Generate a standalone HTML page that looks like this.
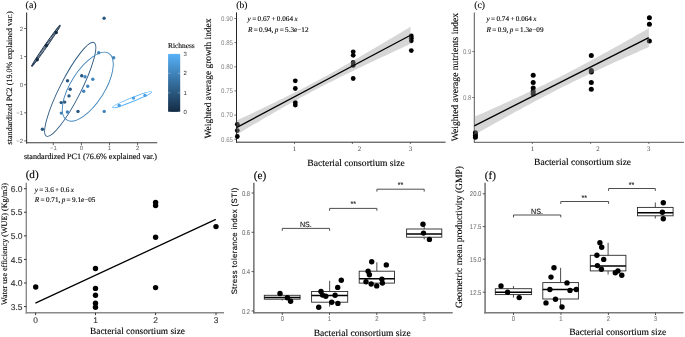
<!DOCTYPE html>
<html><head><meta charset="utf-8"><style>
html,body{margin:0;padding:0;background:#fff;}
svg{display:block;}
</style></head><body>
<svg width="685" height="337" viewBox="0 0 685 337" style="will-change:transform;text-rendering:geometricPrecision">
<rect width="685" height="337" fill="#fff"/>
<text x="25.60" y="7.50" font-family="'Liberation Serif', serif" font-size="9.9" fill="#000" text-anchor="start" stroke="#000" stroke-width="0.12">(a)</text>
<line x1="26.60" y1="12.40" x2="26.60" y2="143.40" stroke="#3a3a3a" stroke-width="1.1"/>
<line x1="26.00" y1="142.80" x2="157.20" y2="142.80" stroke="#3a3a3a" stroke-width="1.1"/>
<line x1="24.20" y1="28.50" x2="26.60" y2="28.50" stroke="#3a3a3a" stroke-width="0.8"/>
<text x="23.00" y="30.60" font-family="'Liberation Sans', sans-serif" font-size="6" fill="#666" text-anchor="end">2</text>
<line x1="24.20" y1="56.60" x2="26.60" y2="56.60" stroke="#3a3a3a" stroke-width="0.8"/>
<text x="23.00" y="58.70" font-family="'Liberation Sans', sans-serif" font-size="6" fill="#666" text-anchor="end">1</text>
<line x1="24.20" y1="84.70" x2="26.60" y2="84.70" stroke="#3a3a3a" stroke-width="0.8"/>
<text x="23.00" y="86.80" font-family="'Liberation Sans', sans-serif" font-size="6" fill="#666" text-anchor="end">0</text>
<line x1="24.20" y1="112.80" x2="26.60" y2="112.80" stroke="#3a3a3a" stroke-width="0.8"/>
<text x="23.00" y="114.90" font-family="'Liberation Sans', sans-serif" font-size="6" fill="#666" text-anchor="end">−1</text>
<line x1="24.20" y1="140.90" x2="26.60" y2="140.90" stroke="#3a3a3a" stroke-width="0.8"/>
<text x="23.00" y="143.00" font-family="'Liberation Sans', sans-serif" font-size="6" fill="#666" text-anchor="end">−2</text>
<line x1="53.30" y1="142.80" x2="53.30" y2="145.20" stroke="#3a3a3a" stroke-width="0.8"/>
<text x="53.30" y="150.30" font-family="'Liberation Sans', sans-serif" font-size="6" fill="#666" text-anchor="middle">−1</text>
<line x1="81.40" y1="142.80" x2="81.40" y2="145.20" stroke="#3a3a3a" stroke-width="0.8"/>
<text x="81.40" y="150.30" font-family="'Liberation Sans', sans-serif" font-size="6" fill="#666" text-anchor="middle">0</text>
<line x1="109.50" y1="142.80" x2="109.50" y2="145.20" stroke="#3a3a3a" stroke-width="0.8"/>
<text x="109.50" y="150.30" font-family="'Liberation Sans', sans-serif" font-size="6" fill="#666" text-anchor="middle">1</text>
<line x1="137.60" y1="142.80" x2="137.60" y2="145.20" stroke="#3a3a3a" stroke-width="0.8"/>
<text x="137.60" y="150.30" font-family="'Liberation Sans', sans-serif" font-size="6" fill="#666" text-anchor="middle">2</text>
<text x="90.50" y="158.60" font-family="'Liberation Serif', serif" font-size="8.13" fill="#000" text-anchor="middle" stroke="#000" stroke-width="0.12">standardized PC1 (76.6% explained var.)</text>
<text x="12.30" y="77.90" font-family="'Liberation Serif', serif" font-size="8.13" fill="#000" text-anchor="middle" transform="rotate(-90 12.3 77.9)" stroke="#000" stroke-width="0.12">standardized PC2 (19.0% explained var.)</text>
<ellipse cx="70.25" cy="89.35" rx="52.5" ry="10.5" transform="rotate(-63.07 70.25 89.35)" fill="none" stroke="#2a5880" stroke-width="0.9"/>
<ellipse cx="87.8" cy="86.7" rx="39.4" ry="16.9" transform="rotate(-57.6 87.8 86.7)" fill="none" stroke="#4084bb" stroke-width="0.9"/>
<ellipse cx="45.95" cy="45.8" rx="25.0" ry="1.3" transform="rotate(-55.3 45.95 45.8)" fill="#c8d0da" stroke="#132B43" stroke-width="0.8"/>
<line x1="31.9" y1="66.1" x2="60.0" y2="25.5" stroke="#132B43" stroke-width="2.2" stroke-dasharray="0.7 0.7"/>
<ellipse cx="132.1" cy="99.7" rx="21.0" ry="1.9" transform="rotate(-21.9 132.1 99.7)" fill="none" stroke="#56B1F7" stroke-width="0.9"/>
<circle cx="37.20" cy="59.70" r="1.7" fill="#132B43"/>
<circle cx="46.40" cy="45.40" r="1.7" fill="#132B43"/>
<circle cx="56.20" cy="32.50" r="1.7" fill="#132B43"/>
<circle cx="119.20" cy="105.50" r="1.7" fill="#4c9fe2"/>
<circle cx="133.50" cy="98.10" r="1.7" fill="#4c9fe2"/>
<circle cx="145.00" cy="95.40" r="1.7" fill="#4c9fe2"/>
<circle cx="104.10" cy="18.30" r="1.7" fill="#2a5880"/>
<circle cx="98.70" cy="52.80" r="1.7" fill="#4084bb"/>
<circle cx="113.70" cy="57.80" r="1.7" fill="#4084bb"/>
<circle cx="81.70" cy="75.80" r="1.7" fill="#2a5880"/>
<circle cx="85.00" cy="76.70" r="1.7" fill="#4084bb"/>
<circle cx="92.80" cy="79.30" r="1.7" fill="#4084bb"/>
<circle cx="67.50" cy="80.70" r="1.7" fill="#2a5880"/>
<circle cx="87.70" cy="86.20" r="1.7" fill="#4084bb"/>
<circle cx="70.20" cy="89.20" r="1.7" fill="#2a5880"/>
<circle cx="83.70" cy="91.30" r="1.7" fill="#4084bb"/>
<circle cx="69.00" cy="95.90" r="1.7" fill="#2a5880"/>
<circle cx="61.20" cy="102.60" r="1.7" fill="#2a5880"/>
<circle cx="64.70" cy="102.10" r="1.7" fill="#2a5880"/>
<circle cx="61.30" cy="113.10" r="1.7" fill="#4084bb"/>
<circle cx="67.40" cy="112.00" r="1.7" fill="#4084bb"/>
<circle cx="78.00" cy="111.40" r="1.7" fill="#2a5880"/>
<circle cx="104.20" cy="111.40" r="1.7" fill="#4084bb"/>
<circle cx="42.40" cy="129.20" r="1.7" fill="#2a5880"/>
<text x="168.00" y="48.40" font-family="'Liberation Serif', serif" font-size="7.4" fill="#000" text-anchor="start" stroke="#000" stroke-width="0.12">Richness</text>
<defs><linearGradient id="cb" x1="0" y1="0" x2="0" y2="1"><stop offset="0" stop-color="#56B1F7"/><stop offset="0.333" stop-color="#4084bb"/><stop offset="0.667" stop-color="#2a5880"/><stop offset="1" stop-color="#132B43"/></linearGradient></defs>
<rect x="168.10" y="53.90" width="12.10" height="58.00" fill="url(#cb)" stroke="none" stroke-width="0"/>
<line x1="168.10" y1="53.90" x2="170.50" y2="53.90" stroke="#fff" stroke-width="0.5" stroke-opacity="0.6"/>
<line x1="177.80" y1="53.90" x2="180.20" y2="53.90" stroke="#fff" stroke-width="0.5" stroke-opacity="0.6"/>
<text x="183.50" y="56.00" font-family="'Liberation Sans', sans-serif" font-size="6" fill="#333" text-anchor="start">3</text>
<line x1="168.10" y1="73.30" x2="170.50" y2="73.30" stroke="#fff" stroke-width="0.5" stroke-opacity="0.6"/>
<line x1="177.80" y1="73.30" x2="180.20" y2="73.30" stroke="#fff" stroke-width="0.5" stroke-opacity="0.6"/>
<text x="183.50" y="75.40" font-family="'Liberation Sans', sans-serif" font-size="6" fill="#333" text-anchor="start">2</text>
<line x1="168.10" y1="92.80" x2="170.50" y2="92.80" stroke="#fff" stroke-width="0.5" stroke-opacity="0.6"/>
<line x1="177.80" y1="92.80" x2="180.20" y2="92.80" stroke="#fff" stroke-width="0.5" stroke-opacity="0.6"/>
<text x="183.50" y="94.90" font-family="'Liberation Sans', sans-serif" font-size="6" fill="#333" text-anchor="start">1</text>
<line x1="168.10" y1="111.90" x2="170.50" y2="111.90" stroke="#fff" stroke-width="0.5" stroke-opacity="0.6"/>
<line x1="177.80" y1="111.90" x2="180.20" y2="111.90" stroke="#fff" stroke-width="0.5" stroke-opacity="0.6"/>
<text x="183.50" y="114.00" font-family="'Liberation Sans', sans-serif" font-size="6" fill="#333" text-anchor="start">0</text>
<text x="236.30" y="7.70" font-family="'Liberation Serif', serif" font-size="9.5" fill="#000" text-anchor="start" stroke="#000" stroke-width="0.12">(b)</text>
<line x1="236.50" y1="12.40" x2="236.50" y2="142.70" stroke="#262626" stroke-width="1.0"/>
<line x1="236.00" y1="142.20" x2="445.60" y2="142.20" stroke="#333" stroke-width="1.0"/>
<line x1="234.40" y1="18.50" x2="236.50" y2="18.50" stroke="#333" stroke-width="0.7"/>
<text x="0.00" y="0.00" font-family="'Liberation Sans', sans-serif" font-size="6.8" fill="#808080" text-anchor="end" transform="translate(233.00 20.80) scale(0.9 1)">0.90</text>
<line x1="234.40" y1="42.65" x2="236.50" y2="42.65" stroke="#333" stroke-width="0.7"/>
<text x="0.00" y="0.00" font-family="'Liberation Sans', sans-serif" font-size="6.8" fill="#808080" text-anchor="end" transform="translate(233.00 44.95) scale(0.9 1)">0.85</text>
<line x1="234.40" y1="66.80" x2="236.50" y2="66.80" stroke="#333" stroke-width="0.7"/>
<text x="0.00" y="0.00" font-family="'Liberation Sans', sans-serif" font-size="6.8" fill="#808080" text-anchor="end" transform="translate(233.00 69.10) scale(0.9 1)">0.80</text>
<line x1="234.40" y1="90.95" x2="236.50" y2="90.95" stroke="#333" stroke-width="0.7"/>
<text x="0.00" y="0.00" font-family="'Liberation Sans', sans-serif" font-size="6.8" fill="#808080" text-anchor="end" transform="translate(233.00 93.25) scale(0.9 1)">0.75</text>
<line x1="234.40" y1="115.10" x2="236.50" y2="115.10" stroke="#333" stroke-width="0.7"/>
<text x="0.00" y="0.00" font-family="'Liberation Sans', sans-serif" font-size="6.8" fill="#808080" text-anchor="end" transform="translate(233.00 117.40) scale(0.9 1)">0.70</text>
<line x1="234.40" y1="139.25" x2="236.50" y2="139.25" stroke="#333" stroke-width="0.7"/>
<text x="0.00" y="0.00" font-family="'Liberation Sans', sans-serif" font-size="6.8" fill="#808080" text-anchor="end" transform="translate(233.00 141.55) scale(0.9 1)">0.65</text>
<line x1="294.50" y1="142.20" x2="294.50" y2="144.00" stroke="#333" stroke-width="0.7"/>
<text x="294.50" y="150.50" font-family="'Liberation Serif', serif" font-size="6.9" fill="#444" text-anchor="middle">1</text>
<line x1="352.40" y1="142.20" x2="352.40" y2="144.00" stroke="#333" stroke-width="0.7"/>
<text x="359.60" y="150.50" font-family="'Liberation Serif', serif" font-size="6.9" fill="#444" text-anchor="middle">2</text>
<line x1="410.40" y1="142.20" x2="410.40" y2="144.00" stroke="#333" stroke-width="0.7"/>
<text x="410.40" y="150.50" font-family="'Liberation Serif', serif" font-size="6.9" fill="#444" text-anchor="middle">3</text>
<text x="356.00" y="165.80" font-family="'Liberation Serif', serif" font-size="9.58" fill="#000" text-anchor="middle" stroke="#000" stroke-width="0.12">Bacterial consortium size</text>
<text x="211.00" y="78.50" font-family="'Liberation Serif', serif" font-size="9.45" fill="#000" text-anchor="middle" transform="rotate(-90 211.0 78.5)" stroke="#000" stroke-width="0.12">Weighted average growth index</text>
<circle cx="237.30" cy="124.30" r="2.4" fill="#000"/>
<circle cx="237.30" cy="130.60" r="2.4" fill="#000"/>
<circle cx="237.30" cy="136.50" r="2.4" fill="#000"/>
<circle cx="295.30" cy="80.80" r="2.4" fill="#000"/>
<circle cx="295.30" cy="88.50" r="2.4" fill="#000"/>
<circle cx="295.30" cy="102.60" r="2.4" fill="#000"/>
<circle cx="295.30" cy="105.10" r="2.4" fill="#000"/>
<circle cx="353.20" cy="51.80" r="2.4" fill="#000"/>
<circle cx="353.20" cy="55.30" r="2.4" fill="#000"/>
<circle cx="353.20" cy="62.50" r="2.4" fill="#000"/>
<circle cx="353.20" cy="65.40" r="2.4" fill="#000"/>
<circle cx="353.20" cy="78.50" r="2.4" fill="#000"/>
<circle cx="411.30" cy="36.00" r="2.4" fill="#000"/>
<circle cx="411.30" cy="38.20" r="2.4" fill="#000"/>
<circle cx="411.30" cy="40.80" r="2.4" fill="#000"/>
<circle cx="411.30" cy="50.60" r="2.4" fill="#000"/>
<path d="M236.50,120.57 L239.40,119.21 L242.30,117.85 L245.20,116.49 L248.10,115.13 L251.00,113.76 L253.90,112.39 L256.80,111.01 L259.70,109.63 L262.60,108.25 L265.50,106.86 L268.40,105.47 L271.30,104.07 L274.20,102.67 L277.10,101.25 L280.00,99.84 L282.90,98.41 L285.80,96.98 L288.70,95.53 L291.60,94.08 L294.50,92.62 L297.40,91.14 L300.30,89.66 L303.20,88.16 L306.10,86.66 L309.00,85.14 L311.90,83.60 L314.80,82.06 L317.70,80.50 L320.60,78.93 L323.50,77.35 L326.40,75.76 L329.30,74.16 L332.20,72.54 L335.10,70.92 L338.00,69.29 L340.90,67.64 L343.80,65.99 L346.70,64.33 L349.60,62.67 L352.50,61.00 L355.40,59.32 L358.30,57.64 L361.20,55.95 L364.10,54.25 L367.00,52.56 L369.90,50.85 L372.80,49.15 L375.70,47.44 L378.60,45.73 L381.50,44.01 L384.40,42.29 L387.30,40.57 L390.20,38.85 L393.10,37.13 L396.00,35.40 L398.90,33.67 L401.80,31.94 L404.70,30.21 L407.60,28.48 L410.50,26.74 L410.50,43.86 L407.60,45.20 L404.70,46.54 L401.80,47.89 L398.90,49.23 L396.00,50.58 L393.10,51.93 L390.20,53.29 L387.30,54.64 L384.40,56.00 L381.50,57.36 L378.60,58.72 L375.70,60.08 L372.80,61.45 L369.90,62.82 L367.00,64.19 L364.10,65.57 L361.20,66.96 L358.30,68.34 L355.40,69.74 L352.50,71.14 L349.60,72.54 L346.70,73.95 L343.80,75.37 L340.90,76.80 L338.00,78.23 L335.10,79.67 L332.20,81.13 L329.30,82.59 L326.40,84.06 L323.50,85.55 L320.60,87.04 L317.70,88.55 L314.80,90.07 L311.90,91.60 L309.00,93.15 L306.10,94.70 L303.20,96.27 L300.30,97.85 L297.40,99.45 L294.50,101.05 L291.60,102.66 L288.70,104.29 L285.80,105.92 L282.90,107.56 L280.00,109.21 L277.10,110.87 L274.20,112.54 L271.30,114.21 L268.40,115.89 L265.50,117.57 L262.60,119.26 L259.70,120.95 L256.80,122.65 L253.90,124.35 L251.00,126.06 L248.10,127.77 L245.20,129.48 L242.30,131.20 L239.40,132.91 L236.50,134.63Z" fill="#999" fill-opacity="0.4"/>
<line x1="236.50" y1="127.60" x2="410.50" y2="35.30" stroke="#000" stroke-width="1.3"/>
<text x="247.60" y="20.90" font-family="'Liberation Serif', serif" font-size="7.2" fill="#000" text-anchor="start" stroke="#000" stroke-width="0.12" word-spacing="-0.45"><tspan font-style="italic">y</tspan> = 0.67 + 0.064 <tspan font-style="italic">x</tspan></text>
<text x="247.90" y="32.30" font-family="'Liberation Serif', serif" font-size="7.2" fill="#000" text-anchor="start" stroke="#000" stroke-width="0.12" word-spacing="-0.45"><tspan font-style="italic">R</tspan> = 0.94, <tspan font-style="italic">p</tspan> = 5.3e−12</text>
<text x="474.30" y="7.90" font-family="'Liberation Serif', serif" font-size="9.7" fill="#000" text-anchor="start" stroke="#000" stroke-width="0.12">(c)</text>
<line x1="474.30" y1="12.50" x2="474.30" y2="142.60" stroke="#444" stroke-width="0.9"/>
<line x1="474.00" y1="142.30" x2="684.00" y2="142.30" stroke="#444" stroke-width="0.9"/>
<line x1="472.20" y1="51.60" x2="474.30" y2="51.60" stroke="#444" stroke-width="0.7"/>
<text x="0.00" y="0.00" font-family="'Liberation Sans', sans-serif" font-size="6.8" fill="#808080" text-anchor="end" transform="translate(471.40 53.90) scale(0.9 1)">0.9</text>
<line x1="472.20" y1="97.50" x2="474.30" y2="97.50" stroke="#444" stroke-width="0.7"/>
<text x="0.00" y="0.00" font-family="'Liberation Sans', sans-serif" font-size="6.8" fill="#808080" text-anchor="end" transform="translate(471.40 99.80) scale(0.9 1)">0.8</text>
<line x1="532.40" y1="142.30" x2="532.40" y2="144.00" stroke="#444" stroke-width="0.7"/>
<text x="532.40" y="150.50" font-family="'Liberation Serif', serif" font-size="6.9" fill="#444" text-anchor="middle">1</text>
<line x1="590.60" y1="142.30" x2="590.60" y2="144.00" stroke="#444" stroke-width="0.7"/>
<text x="598.00" y="150.50" font-family="'Liberation Serif', serif" font-size="6.9" fill="#444" text-anchor="middle">2</text>
<line x1="648.80" y1="142.30" x2="648.80" y2="144.00" stroke="#444" stroke-width="0.7"/>
<text x="648.80" y="150.50" font-family="'Liberation Serif', serif" font-size="6.9" fill="#444" text-anchor="middle">3</text>
<text x="582.60" y="164.80" font-family="'Liberation Serif', serif" font-size="9.56" fill="#000" text-anchor="middle" stroke="#000" stroke-width="0.12">Bacterial consortium size</text>
<text x="457.90" y="77.10" font-family="'Liberation Serif', serif" font-size="9.58" fill="#000" text-anchor="middle" transform="rotate(-90 457.9 77.1)" stroke="#000" stroke-width="0.12">Weighted average nutrients index</text>
<circle cx="475.40" cy="132.70" r="2.5" fill="#000"/>
<circle cx="475.40" cy="135.20" r="2.5" fill="#000"/>
<circle cx="475.40" cy="137.20" r="2.5" fill="#000"/>
<circle cx="533.20" cy="75.30" r="2.5" fill="#000"/>
<circle cx="533.20" cy="82.60" r="2.5" fill="#000"/>
<circle cx="533.20" cy="88.00" r="2.5" fill="#000"/>
<circle cx="533.20" cy="91.50" r="2.5" fill="#000"/>
<circle cx="533.20" cy="94.00" r="2.5" fill="#000"/>
<circle cx="591.30" cy="55.60" r="2.5" fill="#000"/>
<circle cx="591.30" cy="70.50" r="2.5" fill="#000"/>
<circle cx="591.30" cy="72.00" r="2.5" fill="#000"/>
<circle cx="591.30" cy="82.60" r="2.5" fill="#000"/>
<circle cx="591.30" cy="89.30" r="2.5" fill="#000"/>
<circle cx="649.40" cy="17.80" r="2.5" fill="#000"/>
<circle cx="649.40" cy="24.30" r="2.5" fill="#000"/>
<circle cx="649.40" cy="40.90" r="2.5" fill="#000"/>
<path d="M474.30,116.90 L477.21,115.61 L480.12,114.32 L483.03,113.02 L485.94,111.72 L488.85,110.42 L491.76,109.11 L494.67,107.80 L497.58,106.48 L500.49,105.16 L503.40,103.84 L506.31,102.51 L509.22,101.18 L512.13,99.84 L515.04,98.49 L517.95,97.14 L520.86,95.78 L523.77,94.42 L526.68,93.05 L529.59,91.67 L532.50,90.29 L535.41,88.89 L538.32,87.49 L541.23,86.08 L544.14,84.66 L547.05,83.23 L549.96,81.79 L552.87,80.35 L555.78,78.89 L558.69,77.42 L561.60,75.95 L564.51,74.46 L567.42,72.96 L570.33,71.46 L573.24,69.94 L576.15,68.42 L579.06,66.89 L581.97,65.35 L584.88,63.80 L587.79,62.24 L590.70,60.67 L593.61,59.10 L596.52,57.52 L599.43,55.94 L602.34,54.34 L605.25,52.74 L608.16,51.14 L611.07,49.53 L613.98,47.92 L616.89,46.30 L619.80,44.67 L622.71,43.04 L625.62,41.41 L628.53,39.78 L631.44,38.14 L634.35,36.49 L637.26,34.85 L640.17,33.20 L643.08,31.55 L645.99,29.89 L648.90,28.24 L648.90,46.96 L645.99,48.25 L643.08,49.54 L640.17,50.83 L637.26,52.13 L634.35,53.42 L631.44,54.72 L628.53,56.03 L625.62,57.34 L622.71,58.65 L619.80,59.96 L616.89,61.28 L613.98,62.60 L611.07,63.93 L608.16,65.27 L605.25,66.61 L602.34,67.95 L599.43,69.30 L596.52,70.66 L593.61,72.02 L590.70,73.39 L587.79,74.77 L584.88,76.16 L581.97,77.55 L579.06,78.95 L576.15,80.36 L573.24,81.78 L570.33,83.21 L567.42,84.65 L564.51,86.10 L561.60,87.55 L558.69,89.02 L555.78,90.50 L552.87,91.98 L549.96,93.48 L547.05,94.99 L544.14,96.50 L541.23,98.02 L538.32,99.56 L535.41,101.10 L532.50,102.65 L529.59,104.20 L526.68,105.77 L523.77,107.34 L520.86,108.92 L517.95,110.51 L515.04,112.10 L512.13,113.70 L509.22,115.30 L506.31,116.91 L503.40,118.53 L500.49,120.15 L497.58,121.77 L494.67,123.40 L491.76,125.03 L488.85,126.67 L485.94,128.31 L483.03,129.95 L480.12,131.60 L477.21,133.25 L474.30,134.90Z" fill="#999" fill-opacity="0.4"/>
<line x1="474.30" y1="125.90" x2="648.80" y2="37.60" stroke="#000" stroke-width="1.3"/>
<text x="486.50" y="21.30" font-family="'Liberation Serif', serif" font-size="7.2" fill="#000" text-anchor="start" stroke="#000" stroke-width="0.12" word-spacing="-0.45"><tspan font-style="italic">y</tspan> = 0.74 + 0.064 <tspan font-style="italic">x</tspan></text>
<text x="486.50" y="31.60" font-family="'Liberation Serif', serif" font-size="7.2" fill="#000" text-anchor="start" stroke="#000" stroke-width="0.12" word-spacing="-0.45"><tspan font-style="italic">R</tspan> = 0.9, <tspan font-style="italic">p</tspan> = 1.3e−09</text>
<text x="25.65" y="177.50" font-family="'Liberation Serif', serif" font-size="11.2" fill="#000" text-anchor="start" stroke="#000" stroke-width="0.12">(d)</text>
<line x1="26.30" y1="182.80" x2="26.30" y2="313.50" stroke="#8a8a8a" stroke-width="1.4"/>
<line x1="25.60" y1="312.80" x2="224.00" y2="312.80" stroke="#8a8a8a" stroke-width="1.4"/>
<line x1="24.00" y1="188.70" x2="26.30" y2="188.70" stroke="#222" stroke-width="0.9"/>
<text x="22.50" y="191.90" font-family="'Liberation Sans', sans-serif" font-size="8.5" fill="#333" text-anchor="end" stroke="#333" stroke-width="0.12">6.0</text>
<line x1="24.00" y1="212.28" x2="26.30" y2="212.28" stroke="#222" stroke-width="0.9"/>
<text x="22.50" y="215.48" font-family="'Liberation Sans', sans-serif" font-size="8.5" fill="#333" text-anchor="end" stroke="#333" stroke-width="0.12">5.5</text>
<line x1="24.00" y1="235.86" x2="26.30" y2="235.86" stroke="#222" stroke-width="0.9"/>
<text x="22.50" y="239.06" font-family="'Liberation Sans', sans-serif" font-size="8.5" fill="#333" text-anchor="end" stroke="#333" stroke-width="0.12">5.0</text>
<line x1="24.00" y1="259.44" x2="26.30" y2="259.44" stroke="#222" stroke-width="0.9"/>
<text x="22.50" y="262.64" font-family="'Liberation Sans', sans-serif" font-size="8.5" fill="#333" text-anchor="end" stroke="#333" stroke-width="0.12">4.5</text>
<line x1="24.00" y1="283.02" x2="26.30" y2="283.02" stroke="#222" stroke-width="0.9"/>
<text x="22.50" y="286.22" font-family="'Liberation Sans', sans-serif" font-size="8.5" fill="#333" text-anchor="end" stroke="#333" stroke-width="0.12">4.0</text>
<line x1="24.00" y1="306.60" x2="26.30" y2="306.60" stroke="#222" stroke-width="0.9"/>
<text x="22.50" y="309.80" font-family="'Liberation Sans', sans-serif" font-size="8.5" fill="#333" text-anchor="end" stroke="#333" stroke-width="0.12">3.5</text>
<line x1="35.60" y1="312.80" x2="35.60" y2="315.20" stroke="#222" stroke-width="0.9"/>
<text x="35.60" y="322.90" font-family="'Liberation Sans', sans-serif" font-size="8.3" fill="#333" text-anchor="middle" stroke="#333" stroke-width="0.12">0</text>
<line x1="95.50" y1="312.80" x2="95.50" y2="315.20" stroke="#222" stroke-width="0.9"/>
<text x="95.50" y="322.90" font-family="'Liberation Sans', sans-serif" font-size="8.3" fill="#333" text-anchor="middle" stroke="#333" stroke-width="0.12">1</text>
<line x1="155.60" y1="312.80" x2="155.60" y2="315.20" stroke="#222" stroke-width="0.9"/>
<text x="155.60" y="322.90" font-family="'Liberation Sans', sans-serif" font-size="8.3" fill="#333" text-anchor="middle" stroke="#333" stroke-width="0.12">2</text>
<line x1="216.00" y1="312.80" x2="216.00" y2="315.20" stroke="#222" stroke-width="0.9"/>
<text x="216.00" y="322.90" font-family="'Liberation Sans', sans-serif" font-size="8.3" fill="#333" text-anchor="middle" stroke="#333" stroke-width="0.12">3</text>
<text x="137.50" y="334.00" font-family="'Liberation Serif', serif" font-size="9.36" fill="#000" text-anchor="middle" stroke="#000" stroke-width="0.12">Bacterial consortium size</text>
<text x="7.10" y="244.00" font-family="'Liberation Serif', serif" font-size="8.1" fill="#000" text-anchor="middle" transform="rotate(-90 7.1 244.0)" stroke="#000" stroke-width="0.12">Water use efficiency (WUE) (Kg/m3)</text>
<circle cx="35.70" cy="287.00" r="2.7" fill="#000"/>
<circle cx="95.50" cy="268.50" r="2.7" fill="#000"/>
<circle cx="95.50" cy="288.40" r="2.7" fill="#000"/>
<circle cx="95.50" cy="295.20" r="2.7" fill="#000"/>
<circle cx="95.50" cy="303.30" r="2.7" fill="#000"/>
<circle cx="95.50" cy="307.20" r="2.7" fill="#000"/>
<circle cx="155.60" cy="202.40" r="2.7" fill="#000"/>
<circle cx="155.60" cy="205.60" r="2.7" fill="#000"/>
<circle cx="155.60" cy="237.30" r="2.7" fill="#000"/>
<circle cx="155.60" cy="287.60" r="2.7" fill="#000"/>
<circle cx="216.00" cy="226.60" r="2.7" fill="#000"/>
<line x1="35.40" y1="303.10" x2="215.80" y2="219.40" stroke="#000" stroke-width="1.3"/>
<text x="34.80" y="191.70" font-family="'Liberation Serif', serif" font-size="7.2" fill="#000" text-anchor="start" stroke="#000" stroke-width="0.12" word-spacing="-0.45"><tspan font-style="italic">y</tspan> = 3.6 + 0.6 <tspan font-style="italic">x</tspan></text>
<text x="34.80" y="202.10" font-family="'Liberation Serif', serif" font-size="7.2" fill="#000" text-anchor="start" stroke="#000" stroke-width="0.12" word-spacing="-0.45"><tspan font-style="italic">R</tspan> = 0.71, <tspan font-style="italic">p</tspan> = 9.1e−05</text>
<text x="253.75" y="178.70" font-family="'Liberation Serif', serif" font-size="11.3" fill="#000" text-anchor="start" stroke="#000" stroke-width="0.12">(e)</text>
<line x1="253.85" y1="182.80" x2="253.85" y2="313.40" stroke="#7a7a7a" stroke-width="1.6"/>
<line x1="253.05" y1="312.70" x2="452.70" y2="312.70" stroke="#7a7a7a" stroke-width="1.6"/>
<line x1="251.55" y1="193.00" x2="253.85" y2="193.00" stroke="#444" stroke-width="0.9"/>
<text x="0.00" y="0.00" font-family="'Liberation Sans', sans-serif" font-size="7.0" fill="#7a7a7a" text-anchor="end" transform="translate(250.15 195.50) scale(0.85 1)" stroke="#7a7a7a" stroke-width="0.12">0.8</text>
<line x1="251.55" y1="232.30" x2="253.85" y2="232.30" stroke="#444" stroke-width="0.9"/>
<text x="0.00" y="0.00" font-family="'Liberation Sans', sans-serif" font-size="7.0" fill="#7a7a7a" text-anchor="end" transform="translate(250.15 234.80) scale(0.85 1)" stroke="#7a7a7a" stroke-width="0.12">0.6</text>
<line x1="251.55" y1="271.60" x2="253.85" y2="271.60" stroke="#444" stroke-width="0.9"/>
<text x="0.00" y="0.00" font-family="'Liberation Sans', sans-serif" font-size="7.0" fill="#7a7a7a" text-anchor="end" transform="translate(250.15 274.10) scale(0.85 1)" stroke="#7a7a7a" stroke-width="0.12">0.4</text>
<line x1="251.55" y1="311.00" x2="253.85" y2="311.00" stroke="#444" stroke-width="0.9"/>
<text x="0.00" y="0.00" font-family="'Liberation Sans', sans-serif" font-size="7.0" fill="#7a7a7a" text-anchor="end" transform="translate(250.15 313.50) scale(0.85 1)" stroke="#7a7a7a" stroke-width="0.12">0.2</text>
<line x1="282.30" y1="312.70" x2="282.30" y2="315.00" stroke="#444" stroke-width="0.9"/>
<text x="0.00" y="0.00" font-family="'Liberation Sans', sans-serif" font-size="7.0" fill="#7a7a7a" text-anchor="middle" transform="translate(282.30 320.90) scale(0.85 1)" stroke="#7a7a7a" stroke-width="0.12">0</text>
<line x1="329.50" y1="312.70" x2="329.50" y2="315.00" stroke="#444" stroke-width="0.9"/>
<text x="0.00" y="0.00" font-family="'Liberation Sans', sans-serif" font-size="7.0" fill="#7a7a7a" text-anchor="middle" transform="translate(329.50 320.90) scale(0.85 1)" stroke="#7a7a7a" stroke-width="0.12">1</text>
<line x1="376.80" y1="312.70" x2="376.80" y2="315.00" stroke="#444" stroke-width="0.9"/>
<text x="0.00" y="0.00" font-family="'Liberation Sans', sans-serif" font-size="7.0" fill="#7a7a7a" text-anchor="middle" transform="translate(376.80 320.90) scale(0.85 1)" stroke="#7a7a7a" stroke-width="0.12">2</text>
<line x1="424.10" y1="312.70" x2="424.10" y2="315.00" stroke="#444" stroke-width="0.9"/>
<text x="0.00" y="0.00" font-family="'Liberation Sans', sans-serif" font-size="7.0" fill="#7a7a7a" text-anchor="middle" transform="translate(424.10 320.90) scale(0.85 1)" stroke="#7a7a7a" stroke-width="0.12">3</text>
<line x1="282.20" y1="294.50" x2="282.20" y2="295.30" stroke="#2a2a2a" stroke-width="0.85"/>
<line x1="282.20" y1="299.20" x2="282.20" y2="300.50" stroke="#2a2a2a" stroke-width="0.85"/>
<rect x="264.30" y="295.30" width="35.80" height="3.90" fill="#fff" stroke="#2a2a2a" stroke-width="0.9"/>
<line x1="264.30" y1="297.40" x2="300.10" y2="297.40" stroke="#000" stroke-width="1.5"/>
<line x1="329.65" y1="280.80" x2="329.65" y2="291.50" stroke="#2a2a2a" stroke-width="0.85"/>
<line x1="329.65" y1="302.20" x2="329.65" y2="306.60" stroke="#2a2a2a" stroke-width="0.85"/>
<rect x="311.60" y="291.50" width="36.10" height="10.70" fill="#fff" stroke="#2a2a2a" stroke-width="0.9"/>
<line x1="311.60" y1="295.60" x2="347.70" y2="295.60" stroke="#000" stroke-width="1.5"/>
<line x1="376.85" y1="262.30" x2="376.85" y2="271.20" stroke="#2a2a2a" stroke-width="0.85"/>
<line x1="376.85" y1="283.10" x2="376.85" y2="285.80" stroke="#2a2a2a" stroke-width="0.85"/>
<rect x="359.20" y="271.20" width="35.30" height="11.90" fill="#fff" stroke="#2a2a2a" stroke-width="0.9"/>
<line x1="359.20" y1="278.80" x2="394.50" y2="278.80" stroke="#000" stroke-width="1.5"/>
<line x1="424.20" y1="226.00" x2="424.20" y2="229.00" stroke="#2a2a2a" stroke-width="0.85"/>
<line x1="424.20" y1="237.20" x2="424.20" y2="239.40" stroke="#2a2a2a" stroke-width="0.85"/>
<rect x="406.60" y="229.00" width="35.20" height="8.20" fill="#fff" stroke="#2a2a2a" stroke-width="0.9"/>
<line x1="406.60" y1="234.00" x2="441.80" y2="234.00" stroke="#000" stroke-width="1.5"/>
<circle cx="280.00" cy="293.50" r="2.7" fill="#000"/>
<circle cx="287.40" cy="297.80" r="2.7" fill="#000"/>
<circle cx="290.60" cy="301.30" r="2.7" fill="#000"/>
<circle cx="318.70" cy="307.20" r="2.7" fill="#000"/>
<circle cx="321.00" cy="291.50" r="2.7" fill="#000"/>
<circle cx="322.60" cy="295.10" r="2.7" fill="#000"/>
<circle cx="325.80" cy="296.30" r="2.7" fill="#000"/>
<circle cx="331.70" cy="302.20" r="2.7" fill="#000"/>
<circle cx="335.10" cy="295.20" r="2.7" fill="#000"/>
<circle cx="337.90" cy="303.40" r="2.7" fill="#000"/>
<circle cx="337.70" cy="287.40" r="2.7" fill="#000"/>
<circle cx="341.30" cy="280.30" r="2.7" fill="#000"/>
<circle cx="371.70" cy="261.70" r="2.7" fill="#000"/>
<circle cx="386.30" cy="264.90" r="2.7" fill="#000"/>
<circle cx="368.10" cy="271.20" r="2.7" fill="#000"/>
<circle cx="369.40" cy="274.70" r="2.7" fill="#000"/>
<circle cx="381.90" cy="279.20" r="2.7" fill="#000"/>
<circle cx="366.00" cy="281.80" r="2.7" fill="#000"/>
<circle cx="371.20" cy="284.00" r="2.7" fill="#000"/>
<circle cx="382.40" cy="283.10" r="2.7" fill="#000"/>
<circle cx="376.70" cy="285.90" r="2.7" fill="#000"/>
<circle cx="423.00" cy="224.20" r="2.7" fill="#000"/>
<circle cx="423.50" cy="233.10" r="2.7" fill="#000"/>
<circle cx="429.40" cy="239.40" r="2.7" fill="#000"/>
<path d="M282.30,230.80 L282.30,228.40 L329.60,228.40 L329.60,230.80" fill="none" stroke="#3a3a3a" stroke-width="0.9"/>
<text x="0.00" y="0.00" font-family="'Liberation Sans', sans-serif" font-size="7.7" fill="#111" text-anchor="middle" transform="translate(305.90 226.80) scale(0.93 1)" stroke="#111" stroke-width="0.12">NS.</text>
<path d="M329.60,210.80 L329.60,208.40 L376.90,208.40 L376.90,210.80" fill="none" stroke="#3a3a3a" stroke-width="0.9"/>
<text x="353.30" y="206.30" font-family="'Liberation Sans', sans-serif" font-size="7.0" fill="#111" text-anchor="middle" stroke="#111" stroke-width="0.12">**</text>
<path d="M376.90,191.60 L376.90,189.20 L424.20,189.20 L424.20,191.60" fill="none" stroke="#3a3a3a" stroke-width="0.9"/>
<text x="400.40" y="187.00" font-family="'Liberation Sans', sans-serif" font-size="7.0" fill="#111" text-anchor="middle" stroke="#111" stroke-width="0.12">**</text>
<text x="237.20" y="240.70" font-family="'Liberation Sans', sans-serif" font-size="7.8" fill="#000" text-anchor="middle" transform="rotate(-90 237.2 240.7)" stroke="#000" stroke-width="0.12" letter-spacing="0.37">Stress tolerance index (STI)</text>
<text x="362.20" y="335.60" font-family="'Liberation Serif', serif" font-size="9.55" fill="#000" text-anchor="middle" stroke="#000" stroke-width="0.12">Bacterial consortium size</text>
<text x="484.85" y="178.70" font-family="'Liberation Serif', serif" font-size="11.2" fill="#000" text-anchor="start" stroke="#000" stroke-width="0.12">(f)</text>
<line x1="485.10" y1="182.80" x2="485.10" y2="313.40" stroke="#7a7a7a" stroke-width="1.6"/>
<line x1="484.30" y1="312.70" x2="683.50" y2="312.70" stroke="#7a7a7a" stroke-width="1.6"/>
<line x1="482.80" y1="193.80" x2="485.10" y2="193.80" stroke="#444" stroke-width="0.9"/>
<text x="0.00" y="0.00" font-family="'Liberation Sans', sans-serif" font-size="7.0" fill="#7a7a7a" text-anchor="end" transform="translate(481.40 196.30) scale(0.85 1)" stroke="#7a7a7a" stroke-width="0.12">20.0</text>
<line x1="482.80" y1="226.60" x2="485.10" y2="226.60" stroke="#444" stroke-width="0.9"/>
<text x="0.00" y="0.00" font-family="'Liberation Sans', sans-serif" font-size="7.0" fill="#7a7a7a" text-anchor="end" transform="translate(481.40 229.10) scale(0.85 1)" stroke="#7a7a7a" stroke-width="0.12">17.5</text>
<line x1="482.80" y1="259.20" x2="485.10" y2="259.20" stroke="#444" stroke-width="0.9"/>
<text x="0.00" y="0.00" font-family="'Liberation Sans', sans-serif" font-size="7.0" fill="#7a7a7a" text-anchor="end" transform="translate(481.40 261.70) scale(0.85 1)" stroke="#7a7a7a" stroke-width="0.12">15.0</text>
<line x1="482.80" y1="292.20" x2="485.10" y2="292.20" stroke="#444" stroke-width="0.9"/>
<text x="0.00" y="0.00" font-family="'Liberation Sans', sans-serif" font-size="7.0" fill="#7a7a7a" text-anchor="end" transform="translate(481.40 294.70) scale(0.85 1)" stroke="#7a7a7a" stroke-width="0.12">12.5</text>
<line x1="513.50" y1="312.70" x2="513.50" y2="315.00" stroke="#444" stroke-width="0.9"/>
<text x="0.00" y="0.00" font-family="'Liberation Sans', sans-serif" font-size="7.0" fill="#7a7a7a" text-anchor="middle" transform="translate(513.50 320.90) scale(0.85 1)" stroke="#7a7a7a" stroke-width="0.12">0</text>
<line x1="561.00" y1="312.70" x2="561.00" y2="315.00" stroke="#444" stroke-width="0.9"/>
<text x="0.00" y="0.00" font-family="'Liberation Sans', sans-serif" font-size="7.0" fill="#7a7a7a" text-anchor="middle" transform="translate(561.00 320.90) scale(0.85 1)" stroke="#7a7a7a" stroke-width="0.12">1</text>
<line x1="608.40" y1="312.70" x2="608.40" y2="315.00" stroke="#444" stroke-width="0.9"/>
<text x="0.00" y="0.00" font-family="'Liberation Sans', sans-serif" font-size="7.0" fill="#7a7a7a" text-anchor="middle" transform="translate(608.40 320.90) scale(0.85 1)" stroke="#7a7a7a" stroke-width="0.12">2</text>
<line x1="655.50" y1="312.70" x2="655.50" y2="315.00" stroke="#444" stroke-width="0.9"/>
<text x="0.00" y="0.00" font-family="'Liberation Sans', sans-serif" font-size="7.0" fill="#7a7a7a" text-anchor="middle" transform="translate(655.50 320.90) scale(0.85 1)" stroke="#7a7a7a" stroke-width="0.12">3</text>
<line x1="513.45" y1="286.00" x2="513.45" y2="288.70" stroke="#2a2a2a" stroke-width="0.85"/>
<line x1="513.45" y1="294.60" x2="513.45" y2="297.60" stroke="#2a2a2a" stroke-width="0.85"/>
<rect x="495.30" y="288.70" width="36.30" height="5.90" fill="#fff" stroke="#2a2a2a" stroke-width="0.9"/>
<line x1="495.30" y1="292.30" x2="531.60" y2="292.30" stroke="#000" stroke-width="1.5"/>
<line x1="560.60" y1="267.80" x2="560.60" y2="282.60" stroke="#2a2a2a" stroke-width="0.85"/>
<line x1="560.60" y1="299.00" x2="560.60" y2="307.00" stroke="#2a2a2a" stroke-width="0.85"/>
<rect x="542.80" y="282.60" width="35.60" height="16.40" fill="#fff" stroke="#2a2a2a" stroke-width="0.9"/>
<line x1="542.80" y1="289.50" x2="578.40" y2="289.50" stroke="#000" stroke-width="1.5"/>
<line x1="608.10" y1="242.80" x2="608.10" y2="255.30" stroke="#2a2a2a" stroke-width="0.85"/>
<line x1="608.10" y1="270.90" x2="608.10" y2="274.50" stroke="#2a2a2a" stroke-width="0.85"/>
<rect x="590.30" y="255.30" width="35.60" height="15.60" fill="#fff" stroke="#2a2a2a" stroke-width="0.9"/>
<line x1="590.30" y1="266.00" x2="625.90" y2="266.00" stroke="#000" stroke-width="1.5"/>
<line x1="655.30" y1="202.50" x2="655.30" y2="207.40" stroke="#2a2a2a" stroke-width="0.85"/>
<line x1="655.30" y1="215.80" x2="655.30" y2="218.50" stroke="#2a2a2a" stroke-width="0.85"/>
<rect x="637.50" y="207.40" width="35.60" height="8.40" fill="#fff" stroke="#2a2a2a" stroke-width="0.9"/>
<line x1="637.50" y1="212.80" x2="673.10" y2="212.80" stroke="#000" stroke-width="1.5"/>
<circle cx="501.00" cy="286.00" r="2.7" fill="#000"/>
<circle cx="507.60" cy="292.30" r="2.7" fill="#000"/>
<circle cx="519.20" cy="297.60" r="2.7" fill="#000"/>
<circle cx="554.00" cy="267.80" r="2.7" fill="#000"/>
<circle cx="551.00" cy="277.10" r="2.7" fill="#000"/>
<circle cx="567.00" cy="282.90" r="2.7" fill="#000"/>
<circle cx="549.90" cy="289.50" r="2.7" fill="#000"/>
<circle cx="570.00" cy="290.40" r="2.7" fill="#000"/>
<circle cx="576.30" cy="289.50" r="2.7" fill="#000"/>
<circle cx="555.50" cy="299.30" r="2.7" fill="#000"/>
<circle cx="546.00" cy="302.90" r="2.7" fill="#000"/>
<circle cx="562.00" cy="307.00" r="2.7" fill="#000"/>
<circle cx="599.90" cy="242.80" r="2.7" fill="#000"/>
<circle cx="601.70" cy="247.30" r="2.7" fill="#000"/>
<circle cx="596.90" cy="255.30" r="2.7" fill="#000"/>
<circle cx="603.70" cy="259.40" r="2.7" fill="#000"/>
<circle cx="597.40" cy="265.60" r="2.7" fill="#000"/>
<circle cx="601.40" cy="269.20" r="2.7" fill="#000"/>
<circle cx="615.30" cy="272.70" r="2.7" fill="#000"/>
<circle cx="617.90" cy="270.90" r="2.7" fill="#000"/>
<circle cx="621.80" cy="275.20" r="2.7" fill="#000"/>
<circle cx="663.30" cy="202.80" r="2.7" fill="#000"/>
<circle cx="662.40" cy="212.30" r="2.7" fill="#000"/>
<circle cx="663.30" cy="218.80" r="2.7" fill="#000"/>
<path d="M513.50,217.40 L513.50,215.00 L560.80,215.00 L560.80,217.40" fill="none" stroke="#3a3a3a" stroke-width="0.9"/>
<text x="0.00" y="0.00" font-family="'Liberation Sans', sans-serif" font-size="7.7" fill="#111" text-anchor="middle" transform="translate(537.00 213.60) scale(0.93 1)" stroke="#111" stroke-width="0.12">NS.</text>
<path d="M560.80,203.90 L560.80,201.50 L608.60,201.50 L608.60,203.90" fill="none" stroke="#3a3a3a" stroke-width="0.9"/>
<text x="584.30" y="200.20" font-family="'Liberation Sans', sans-serif" font-size="7.0" fill="#111" text-anchor="middle" stroke="#111" stroke-width="0.12">**</text>
<path d="M608.60,190.90 L608.60,188.50 L655.30,188.50 L655.30,190.90" fill="none" stroke="#3a3a3a" stroke-width="0.9"/>
<text x="631.60" y="187.20" font-family="'Liberation Sans', sans-serif" font-size="7.0" fill="#111" text-anchor="middle" stroke="#111" stroke-width="0.12">**</text>
<text x="462.00" y="237.00" font-family="'Liberation Serif', serif" font-size="9.57" fill="#000" text-anchor="middle" transform="rotate(-90 462.0 237.0)" stroke="#000" stroke-width="0.12">Geometric mean productivity (GMP)</text>
<text x="617.70" y="334.50" font-family="'Liberation Serif', serif" font-size="9.55" fill="#000" text-anchor="middle" stroke="#000" stroke-width="0.12">Bacterial consortium size</text>
</svg>
</body></html>
